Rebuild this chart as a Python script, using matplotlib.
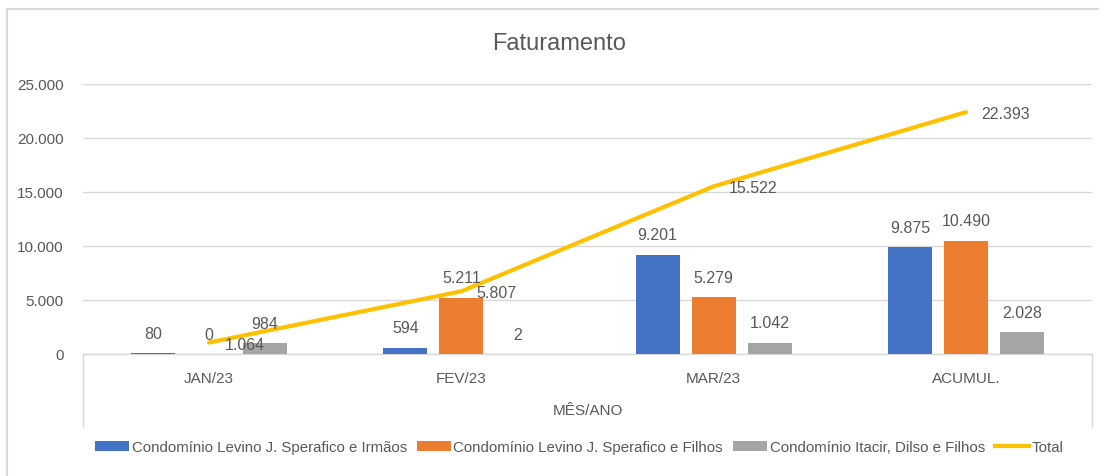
import matplotlib
matplotlib.use("Agg")
import matplotlib.pyplot as plt
from matplotlib.lines import Line2D
from matplotlib.patches import Rectangle, Patch
import numpy as np

categories = ["JAN/23", "FEV/23", "MAR/23", "ACUMUL."]
irmaos = [80, 594, 9201, 9875]
filhos = [0, 5211, 5279, 10490]
itacir = [984, 2, 1042, 2028]
total = [1064, 5807, 15522, 22393]
series_names = ["Condomínio Levino J. Sperafico e Irmãos",
                "Condomínio Levino J. Sperafico e Filhos",
                "Condomínio Itacir, Dilso e Filhos",
                "Total"]
yticks = [0, 5000, 10000, 15000, 20000, 25000]

colors = ["#4472C4", "#ED7D31", "#A5A5A5"]
line_color = "#FFC000"
text_color = "#595959"
grid_color = "#D9D9D9"

plt.rcParams['font.family'] = ['Liberation Sans Narrow', 'Liberation Sans', 'DejaVu Sans']

W, H = 1099, 477
fig = plt.figure(figsize=(W / 100, H / 100), dpi=100)

def fx(px):
    return px / W

def fy(py):
    return 1 - py / H

# outer chart border
fig.add_artist(Rectangle((fx(7), fy(520)), fx(1200), (520 - 10) / H,
                         transform=fig.transFigure, fill=False,
                         edgecolor=grid_color, lw=1.5))

ax = fig.add_axes([fx(83), fy(355), fx(1092 - 83), (355 - 85) / H])
ax.set_xlim(-0.5, 3.5)
ax.set_ylim(0, 25000)

def fmt(v):
    return f"{v:,}".replace(",", ".")

x = np.arange(len(categories))
offset = 0.222
width = 0.175
for i, (vals, c) in enumerate(zip([irmaos, filhos, itacir], colors)):
    xs = x + (i - 1) * offset
    ax.bar(xs, vals, width=width, color=c, zorder=2)
    for xi, v in zip(xs, vals):
        ax.annotate(fmt(v), (xi, v), xytext=(0, 11), textcoords="offset points",
                    ha="center", va="baseline", fontsize=11.5, color=text_color, zorder=5)

ax.plot(x, total, color=line_color, lw=3, solid_capstyle="round",
        solid_joinstyle="round", zorder=3)
for xi, v in zip(x, total):
    ax.annotate(fmt(v), (xi, v), xytext=(11, 0), textcoords="offset points",
                ha="left", va="center_baseline", fontsize=11.5, color=text_color, zorder=5)

ax.set_yticks(yticks)
ax.set_yticklabels([fmt(v) for v in yticks])
ax.set_xticks(x)
ax.set_xticklabels(categories)
ax.tick_params(axis="y", length=0, pad=14, labelsize=11, labelcolor=text_color)
ax.tick_params(axis="x", length=0, pad=12, labelsize=11, labelcolor=text_color)
ax.grid(axis="y", color=grid_color, lw=1, zorder=0)
for s in ["top", "right", "left"]:
    ax.spines[s].set_visible(False)
ax.spines["bottom"].set_color(grid_color)
ax.spines["bottom"].set_linewidth(1)
ax.spines["bottom"].set_zorder(1)

# category box side lines
for px in (83, 1092):
    fig.add_artist(Line2D([fx(px), fx(px)], [fy(355), fy(427)],
                          transform=fig.transFigure, color=grid_color, lw=1))

fig.text(fx(559), fy(44), "Faturamento", ha="center", va="center",
         fontsize=17, color=text_color)
fig.text(fx(588), fy(411), "MÊS/ANO", ha="center", va="center",
         fontsize=11, color=text_color)

handles = [Patch(facecolor=c) for c in colors] + [Line2D([], [], color=line_color, lw=3)]
fig.legend(handles, series_names, loc="center", bbox_to_anchor=(fx(579), fy(448)),
           ncol=4, frameon=False, fontsize=10.8, labelcolor=text_color,
           handlelength=2.3, handleheight=0.7, handletextpad=0.15,
           columnspacing=0.65, borderaxespad=0)

fig.savefig("out.png", dpi=100)
